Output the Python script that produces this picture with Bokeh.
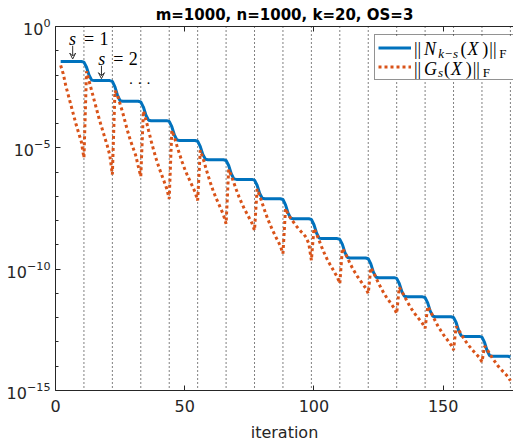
import numpy as np
from bokeh.plotting import figure
from bokeh.models import (Range1d, FixedTicker, LinearAxis, Span, Label, Arrow,
                          VeeHead, Legend, LegendItem, LogTickFormatter, BoxAnnotation)
from bokeh.embed import file_html
from bokeh.resources import INLINE

# ---------------- data ----------------
title_text = "m=1000, n=1000, k=20, OS=3"
x_label = "iteration"
x_ticks = [0, 50, 100, 150]
y_major_ticks = [1e-15, 1e-10, 1e-5, 1e0]
y_minor_ticks = [1e-14, 1e-13, 1e-12, 1e-11, 1e-9, 1e-8, 1e-7, 1e-6,
                 1e-4, 1e-3, 1e-2, 1e-1]
block_ends = [11, 22, 33, 44, 55, 66, 77, 88, 99, 110, 121, 132, 143, 154, 165, 176]
first_iteration = 2
last_iteration = 176

# log10 ||N_{k-s}(X)||_F, one row per block of 11 iterations
n_log10_blocks = [
    [-1.44, -1.44, -1.44, -1.44, -1.44, -1.44, -1.44, -1.44, -1.44, -1.47],
    [-1.68, -2.01, -2.21, -2.23, -2.23, -2.23, -2.23, -2.23, -2.23, -2.23, -2.26],
    [-2.49, -2.84, -3.06, -3.08, -3.08, -3.08, -3.08, -3.08, -3.08, -3.08, -3.11],
    [-3.32, -3.66, -3.86, -3.88, -3.88, -3.88, -3.88, -3.88, -3.88, -3.88, -3.91],
    [-4.13, -4.47, -4.68, -4.70, -4.70, -4.70, -4.70, -4.70, -4.70, -4.70, -4.73],
    [-4.94, -5.27, -5.47, -5.49, -5.49, -5.49, -5.49, -5.49, -5.49, -5.49, -5.52],
    [-5.73, -6.07, -6.28, -6.30, -6.30, -6.30, -6.30, -6.30, -6.30, -6.30, -6.33],
    [-6.54, -6.88, -7.08, -7.10, -7.10, -7.10, -7.10, -7.10, -7.10, -7.10, -7.13],
    [-7.35, -7.69, -7.90, -7.92, -7.92, -7.92, -7.92, -7.92, -7.92, -7.92, -7.95],
    [-8.17, -8.51, -8.72, -8.74, -8.74, -8.74, -8.74, -8.74, -8.74, -8.74, -8.77],
    [-8.98, -9.32, -9.52, -9.54, -9.54, -9.54, -9.54, -9.54, -9.54, -9.54, -9.57],
    [-9.78, -10.12, -10.33, -10.35, -10.35, -10.35, -10.35, -10.35, -10.35, -10.35, -10.38],
    [-10.59, -10.92, -11.12, -11.14, -11.14, -11.14, -11.14, -11.14, -11.14, -11.14, -11.17],
    [-11.39, -11.73, -11.94, -11.96, -11.96, -11.96, -11.96, -11.96, -11.96, -11.96, -11.99],
    [-12.20, -12.54, -12.75, -12.77, -12.77, -12.77, -12.77, -12.77, -12.77, -12.77, -12.80],
    [-13.02, -13.36, -13.57, -13.59, -13.59, -13.59, -13.59, -13.59, -13.59, -13.59, -13.62],
]

# log10 ||G_s(X)||_F, one row per block of 11 iterations
g_log10_blocks = [
    [-1.60, -1.95, -2.45, -2.85, -3.25, -3.65, -4.05, -4.40, -4.75, -5.41],
    [-1.85, -2.25, -2.65, -3.05, -3.45, -3.85, -4.20, -4.55, -4.90, -5.30, -6.10],
    [-2.65, -2.85, -3.20, -3.55, -3.95, -4.35, -4.70, -5.00, -5.30, -5.75, -6.18],
    [-3.48, -3.84, -4.28, -4.71, -5.11, -5.47, -5.80, -6.09, -6.38, -6.67, -7.10],
    [-4.28, -4.57, -4.92, -5.26, -5.58, -5.87, -6.13, -6.36, -6.59, -6.82, -7.17],
    [-5.10, -5.40, -5.77, -6.13, -6.46, -6.77, -7.04, -7.28, -7.52, -7.77, -8.13],
    [-5.89, -6.14, -6.44, -6.74, -7.02, -7.27, -7.50, -7.70, -7.90, -8.10, -8.40],
    [-6.70, -6.97, -7.29, -7.60, -7.90, -8.16, -8.40, -8.62, -8.83, -9.04, -9.36],
    [-7.50, -7.75, -7.90, -8.05, -8.20, -8.33, -8.45, -8.55, -8.70, -8.95, -9.63],
    [-8.32, -8.55, -8.82, -9.09, -9.34, -9.57, -9.77, -9.95, -10.14, -10.32, -10.59],
    [-9.14, -9.33, -9.55, -9.77, -9.98, -10.16, -10.33, -10.48, -10.63, -10.78, -11.00],
    [-9.94, -10.13, -10.36, -10.58, -10.79, -10.98, -11.15, -11.30, -11.45, -11.60, -11.83],
    [-10.75, -10.92, -11.12, -11.32, -11.51, -11.68, -11.83, -11.97, -12.10, -12.24, -12.44],
    [-11.54, -11.72, -11.93, -12.15, -12.35, -12.52, -12.69, -12.83, -12.97, -13.12, -13.33],
    [-12.36, -12.51, -12.68, -12.86, -13.02, -13.16, -13.29, -13.41, -13.53, -13.64, -13.82],
    [-13.17, -13.31, -13.48, -13.66, -13.81, -13.96, -14.09, -14.20, -14.31, -14.43, -14.60],
]

# ---------------- build ----------------
iterations = np.arange(first_iteration, last_iteration + 1)
n_vals = 10.0 ** np.concatenate([np.array(r) for r in n_log10_blocks])
g_vals = 10.0 ** np.concatenate([np.array(r) for r in g_log10_blocks])

AX = "#262626"
BLUE = "#0072BD"
ORANGE = "#D95319"

p = figure(width=513, height=445, x_range=Range1d(0, 177.2), y_range=Range1d(1e-15, 1.0),
           y_axis_type="log", output_backend="svg", toolbar_location=None,
           min_border_left=55, min_border_right=0, min_border_top=26, min_border_bottom=55)
p.background_fill_color = "white"
p.border_fill_color = "white"
p.outline_line_color = None
p.xgrid.visible = False
p.ygrid.visible = False

p.title.text = title_text
p.title.align = "center"
p.title.text_font = "DejaVu Sans"
p.title.text_font_size = "15px"
p.title.text_font_style = "bold"
p.title.text_color = "black"
p.title.standoff = 6

xaxis = p.below[0]
xaxis.ticker = FixedTicker(ticks=x_ticks)
xaxis.major_tick_in = 5
xaxis.major_tick_out = 0
xaxis.minor_tick_in = 0
xaxis.minor_tick_out = 0
xaxis.axis_line_color = AX
xaxis.major_tick_line_color = AX
xaxis.major_label_text_font = "DejaVu Sans"
xaxis.major_label_text_font_size = "16px"
xaxis.major_label_text_color = AX
xaxis.major_label_standoff = 9
xaxis.axis_label = x_label
xaxis.axis_label_text_font = "DejaVu Sans"
xaxis.axis_label_text_font_size = "16px"
xaxis.axis_label_text_font_style = "normal"
xaxis.axis_label_text_color = AX
xaxis.axis_label_standoff = 8

yaxis = p.left[0]
yaxis.ticker = FixedTicker(ticks=y_major_ticks, minor_ticks=y_minor_ticks)
yaxis.formatter = LogTickFormatter()
yaxis.major_tick_in = 5
yaxis.major_tick_out = 0
yaxis.minor_tick_in = 3
yaxis.minor_tick_out = 0
yaxis.axis_line_color = AX
yaxis.major_tick_line_color = AX
yaxis.minor_tick_line_color = AX
yaxis.major_label_text_font = "DejaVu Sans"
yaxis.major_label_text_font_size = "16px"
yaxis.major_label_text_color = AX
yaxis.major_label_standoff = 5

# top edge of the box with mirrored ticks (no labels)
top_axis = LinearAxis(ticker=FixedTicker(ticks=x_ticks), major_label_text_color=None,
                      major_label_text_font_size="10px",
                      major_tick_in=5, major_tick_out=0, minor_tick_in=0, minor_tick_out=0,
                      axis_line_color=AX, major_tick_line_color=AX, major_label_standoff=0)
p.add_layout(top_axis, "above")

for xe in block_ends:
    p.add_layout(Span(location=xe, dimension="height", line_color="black",
                      line_width=1, line_dash="1 3", level="underlay"))

# ---------------- annotations (positions given in reference pixels) ----------------
def at(px_x, px_y):
    return (px_x - 54.5) / 2.587, 10 ** (-(px_y - 25.7) / 24.32)

# white background of the legend box (hides the dotted lines behind it)
lb_left, lb_top = at(372.7, 35.5)
lb_right, lb_bottom = at(511.7, 80.0)
p.add_layout(BoxAnnotation(left=lb_left, right=lb_right, top=lb_top, bottom=lb_bottom,
                           fill_color="white", fill_alpha=1.0, line_color=None,
                           level="underlay"))

blue = p.line(iterations, n_vals, line_color=BLUE, line_width=3)
orange = p.line(iterations, g_vals, line_color=ORANGE, line_width=3, line_dash="3 3")

legend = Legend(items=[LegendItem(label=" ", renderers=[blue]),
                       LegendItem(label=" ", renderers=[orange])],
                location=(318.5, 310), padding=3, spacing=0, glyph_width=33,
                glyph_height=19, label_height=19, label_width=94, label_standoff=5,
                border_line_color=AX, border_line_width=1, background_fill_color=None,
                background_fill_alpha=0.0, margin=0, label_text_color=None,
                label_text_font_size="12px")
p.add_layout(legend)

SERIF = "Liberation Serif"
BASE_SHIFT = -5.5
pieces = [
    # text, px_x, baseline_px, style, size
    ("||", 413.3, 54.2, "normal", 18), ("N", 423.3, 54.2, "italic", 18),
    ("k\u2212s", 437.7, 58.0, "italic", 13), ("(", 459.9, 54.2, "normal", 18),
    ("X", 466.9, 54.2, "italic", 18), (")", 481.7, 54.2, "normal", 18),
    ("||", 488.7, 54.2, "normal", 18), ("F", 498.7, 58.0, "normal", 13),
    ("||", 413.3, 73.5, "normal", 18), ("G", 423.3, 73.5, "italic", 18),
    ("s", 437.4, 77.0, "italic", 13), ("(", 443.3, 73.5, "normal", 18),
    ("X", 450.3, 73.5, "italic", 18), (")", 465.1, 73.5, "normal", 18),
    ("||", 472.1, 73.5, "normal", 18), ("F", 482.1, 77.0, "normal", 13),
    ("s", 68.0, 43.3, "italic", 18), ("=", 83.0, 43.3, "normal", 18),
    ("1", 98.5, 43.3, "normal", 18),
    ("s", 97.3, 63.3, "italic", 18), ("=", 112.3, 63.3, "normal", 18),
    ("2", 127.8, 63.3, "normal", 18),
    ("\u00b7 \u00b7 \u00b7", 127.5, 88.0, "normal", 15),
]
for txt, pxx, pyy, style, size in pieces:
    lx, ly = at(pxx, pyy + BASE_SHIFT)
    p.add_layout(Label(x=lx, y=ly, text=txt, text_font=SERIF, text_font_size=f"{size}px",
                       text_font_style=style, text_color="black", text_align="left",
                       text_baseline="alphabetic"))

for (ax0, ay0, ay1) in [(71.7, 45.0, 58.3), (100.5, 65.0, 78.0)]:
    x0, y0 = at(ax0, ay0)
    _, y1 = at(ax0, ay1)
    p.add_layout(Arrow(end=VeeHead(size=6, line_color="#333333", line_width=1, fill_color=None),
                       x_start=x0, y_start=y0, x_end=x0, y_end=y1,
                       line_color="#333333", line_width=1))

open("out.html", "w").write(file_html(p, INLINE))
